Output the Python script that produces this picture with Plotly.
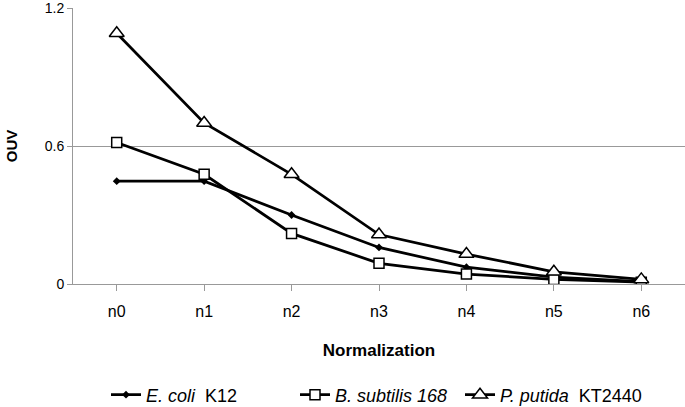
import plotly.graph_objects as go

categories = ["n0", "n1", "n2", "n3", "n4", "n5", "n6"]
ecoli = [0.447, 0.447, 0.30, 0.159, 0.073, 0.030, 0.010]
bsub = [0.615, 0.477, 0.22, 0.090, 0.043, 0.020, 0.008]
pput = [1.09, 0.70, 0.477, 0.215, 0.13, 0.053, 0.020]

names = ["<i>E. coli</i>  K12", "<i>B. subtilis 168</i>", "<i>P. putida</i>  KT2440"]
y_ticks = [0, 0.6, 1.2]
y_tick_text = ["0", "0.6", "1.2"]

L, R, T, B = 73, 0, 8, 123
W, H = 685, 407
PW = W - L - R
PH = H - T - B


def px_x(x):
    return (x - L) / PW


def px_y(y):
    return (H - B - y) / PH


fig = go.Figure()
fig.add_trace(go.Scatter(x=categories, y=ecoli, name=names[0], mode="lines+markers",
                         line=dict(color="black", width=2.75),
                         marker=dict(symbol="diamond", size=6, color="black"),
                         legend="legend"))
fig.add_trace(go.Scatter(x=categories, y=bsub, name=names[1], mode="lines+markers",
                         line=dict(color="black", width=2.75),
                         marker=dict(symbol="square", size=10, color="white",
                                     line=dict(color="black", width=1.5)),
                         legend="legend2"))
fig.add_trace(go.Scatter(x=categories, y=pput, name=names[2], mode="lines+markers",
                         line=dict(color="black", width=2.75),
                         marker=dict(symbol="triangle-up", size=13, color="white",
                                     line=dict(color="black", width=1.5)),
                         legend="legend3"))

leg_common = dict(orientation="h", xanchor="left", yanchor="middle",
                  font=dict(size=18), itemwidth=30, bgcolor="rgba(0,0,0,0)")

fig.update_layout(
    width=W, height=H,
    margin=dict(l=L, r=R, t=T, b=B, autoexpand=False),
    paper_bgcolor="white", plot_bgcolor="white",
    font=dict(family="Liberation Sans, Arial, sans-serif", size=15, color="black"),
    showlegend=True,
    legend=dict(x=px_x(106), y=px_y(395), **leg_common),
    legend2=dict(x=px_x(295), y=px_y(395), **leg_common),
    legend3=dict(x=px_x(460), y=px_y(395), **leg_common),
    xaxis=dict(
        type="category", range=[-0.5, 6.5], automargin=False,
        showline=True, linecolor="#999999", linewidth=1,
        ticks="outside", ticklen=6, tickcolor="#999999",
        showgrid=False, zeroline=False,
        tickfont=dict(size=16), ticklabelstandoff=7,
        title=dict(text="<b>Normalization</b>", font=dict(size=17), standoff=24),
    ),
    yaxis=dict(
        range=[0, 1.2], tickvals=y_ticks, ticktext=y_tick_text, automargin=False,
        showline=True, linecolor="#999999", linewidth=1,
        ticks="outside", ticklen=5, tickcolor="#999999",
        showgrid=True, gridcolor="#999999", gridwidth=1, zeroline=False,
        tickfont=dict(size=14), ticklabelstandoff=0, ticklabeloverflow="allow",
        title=dict(text="<b>OUV</b>", font=dict(size=15), standoff=23),
    ),
)

fig.write_html("out.html", config={"displayModeBar": False},
               post_script="document.body.style.margin='0';document.body.style.padding='0';")
